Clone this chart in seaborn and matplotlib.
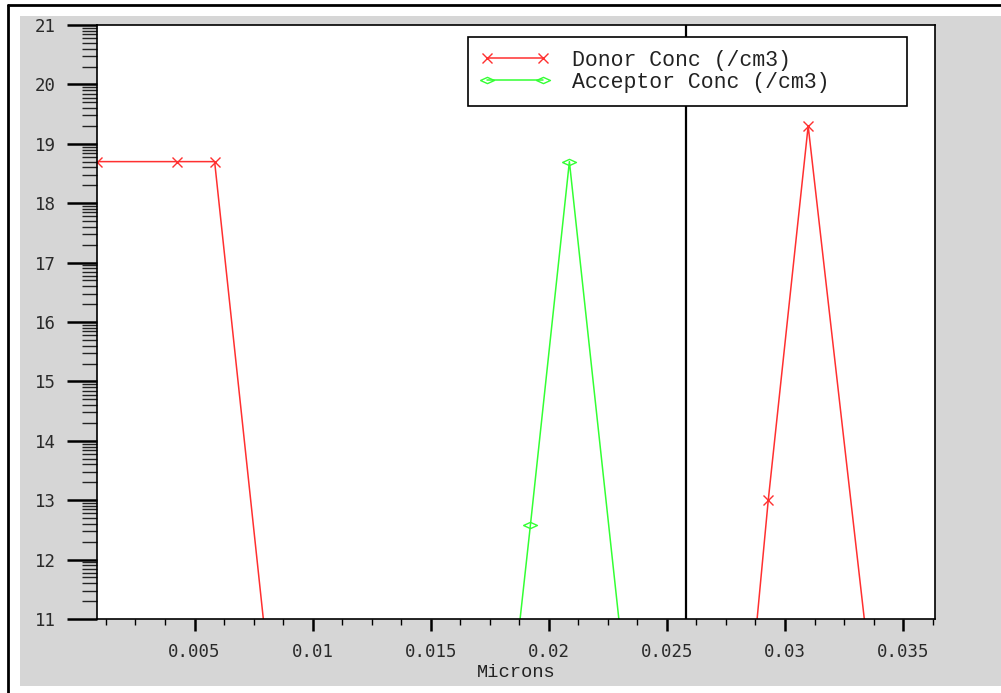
"""Doping profile: donor / acceptor concentration (log10) along the device."""

import matplotlib
matplotlib.use("Agg")
import matplotlib.pyplot as plt
import numpy as np
import pandas as pd
import seaborn as sns
from matplotlib.lines import Line2D
from matplotlib.patches import Rectangle
from matplotlib.path import Path
from matplotlib.ticker import FixedLocator, FuncFormatter, MultipleLocator

# --- data (log10 of concentration) ---
donor_x = [0.00087, 0.00424, 0.00585, 0.0081, 0.0287, 0.02929, 0.03098, 0.0335, 0.0365]
donor_y = [18.7, 18.7, 18.7, 10.3, 10.5, 13.0, 19.3, 10.5, 10.5]

acceptor_x = [0.0005, 0.0187, 0.01922, 0.02087, 0.0231, 0.0365]
acceptor_y = [10.0, 10.7, 12.58, 18.7, 10.5, 10.0]

junction_x = 0.02582

x_ticks = [0.005, 0.01, 0.015, 0.02, 0.025, 0.03, 0.035]
y_ticks = list(range(11, 22))

sns.set_theme(style="white")
plt.rcParams["font.family"] = ["Liberation Mono", "DejaVu Sans Mono"]

GRAY = "#d6d6d6"
RED = "#ff3030"
GREEN = "#33ff33"

fig = plt.figure(figsize=(10.01, 6.93), dpi=100)
fig.patch.set_facecolor("white")

# outer frame + gray panel
W, H = 1001, 693
fig.patches.append(Rectangle((20 / W, (H - 686) / H), 1, (686 - 16) / H,
                             transform=fig.transFigure, facecolor=GRAY, edgecolor="none", zorder=-10))
fig.lines.append(Line2D([8 / W, 1], [1 - 5 / H, 1 - 5 / H], transform=fig.transFigure,
                        color="black", lw=2, zorder=-5))
fig.lines.append(Line2D([8 / W, 8 / W], [0, 1 - 5 / H], transform=fig.transFigure,
                        color="black", lw=2, zorder=-5))

ax = fig.add_axes([97 / W, (H - 619) / H, (935 - 97) / W, (619 - 25) / H])
ax.set_zorder(1)
ax.set_facecolor("white")

donor = pd.DataFrame({"x": donor_x, "y": donor_y})
acceptor = pd.DataFrame({"x": acceptor_x, "y": acceptor_y})

# wide flat diamond for the acceptor marker
diamond = Path([(-1, 0), (0, 0.45), (1, 0), (0, -0.45), (-1, 0)])

sns.lineplot(data=donor, x="x", y="y", sort=False, estimator=None, ax=ax,
             color=RED, lw=1.1, marker="x", markersize=7, markeredgewidth=1,
             markeredgecolor=RED, label="Donor Conc (/cm3)")
sns.lineplot(data=acceptor, x="x", y="y", sort=False, estimator=None, ax=ax,
             color=GREEN, lw=1.1, marker=diamond, markersize=10, markeredgewidth=1,
             markerfacecolor="none", markeredgecolor=GREEN, label="Acceptor Conc (/cm3)")

ax.axvline(junction_x, color="black", lw=1.6)

ax.set_xlim(0.00087, 0.03635)
ax.set_ylim(11, 21)

ax.xaxis.set_major_locator(FixedLocator(x_ticks))
ax.xaxis.set_minor_locator(MultipleLocator(0.00125))
ax.xaxis.set_major_formatter(FuncFormatter(lambda v, _: f"{v:g}"))
ax.yaxis.set_major_locator(FixedLocator(y_ticks))
y_minor = [d + np.log10(k) for d in y_ticks[:-1] for k in range(2, 10)]
ax.yaxis.set_minor_locator(FixedLocator(y_minor))

ax.tick_params(axis="x", which="major", direction="out", length=8.6, width=1.8, pad=9,
               bottom=True, color="black", labelcolor="#2a2a2a")
ax.tick_params(axis="x", which="minor", direction="out", length=4.3, width=1.0, bottom=True, color="black")
ax.tick_params(axis="y", which="major", direction="out", length=21.6, width=1.8, pad=8,
               left=True, color="black", labelcolor="#2a2a2a")
ax.tick_params(axis="y", which="minor", direction="out", length=10.8, width=1.0, left=True, color="#222222")
for lab in ax.get_xticklabels() + ax.get_yticklabels():
    lab.set_fontfamily("DejaVu Sans Mono")
    lab.set_fontsize(12.5)

for s in ax.spines.values():
    s.set_color("black")
    s.set_linewidth(1.2)

ax.set_xlabel("Microns", fontsize=13.5, family="Liberation Mono", color="#222222", labelpad=2)
ax.set_ylabel("")

leg_x0 = (468 - 97) / 838
leg_x1 = (907 - 97) / 838
leg_top = 1 - (37 - 25) / 594
leg = ax.legend(loc="upper left", bbox_to_anchor=(leg_x0, leg_top - 0.2, leg_x1 - leg_x0, 0.2),
                mode="expand", borderaxespad=0, fancybox=False, frameon=True, framealpha=1,
                edgecolor="black", numpoints=2, handlelength=3.2, handletextpad=1.05,
                labelspacing=0.05, borderpad=0.6, prop={"family": "Liberation Mono", "size": 15.5})
leg.get_frame().set_linewidth(1.2)
for t in leg.get_texts():
    t.set_color("#222222")

fig.savefig("out.png", dpi=100)
